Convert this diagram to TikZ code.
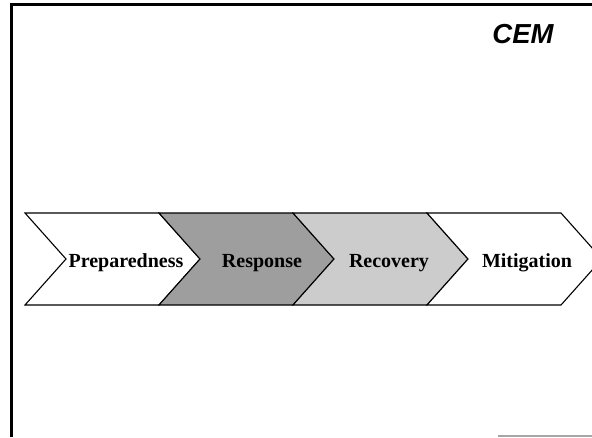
\documentclass[tikz,border=0pt]{standalone}
\usepackage{fontspec}
\setmainfont{Liberation Serif}
\newfontfamily\cemfont{Liberation Sans}
\begin{document}
\begin{tikzpicture}[x=1pt,y=-1pt,
  chev/.style={draw=black,line width=1.1pt,line join=miter},
  lbl/.style={font=\fontsize{20}{22}\selectfont\bfseries,anchor=base,inner sep=0pt},
  frame/.style={draw=black,line width=2.2pt}]
\useasboundingbox (0,0) rectangle (592,437);
\fill[white] (0,0) rectangle (592,437);
% frame
\draw[frame] (11.5,437) -- (11.5,4.5) -- (592,4.5);
\draw[gray!70,line width=1.2pt] (498,436) -- (592,436);
% title
\node[font=\cemfont\fontsize{27.5}{30}\selectfont\bfseries\itshape,anchor=base,inner sep=0pt] (cem) at (523,43) {CEM};
% chevrons
\def\ch#1#2{(#1,213) -- ({#1+134},213) -- ({#1+175},259) -- ({#1+134},305) -- (#1,305) -- ({#1+41},259) -- cycle}
\path[chev,fill=white] \ch{25}{};
\path[chev,fill=black!38] \ch{159}{};
\path[chev,fill=black!20] \ch{293}{};
\path[chev,fill=white] \ch{427}{};
% labels
\node[lbl] (prep) at (126,267) {Preparedness};
\node[lbl] (resp) at (262,267) {Response};
\node[lbl] (reco) at (389,267) {Recovery};
\node[lbl] (miti) at (527,267) {Mitigation};
\end{tikzpicture}
\end{document}
